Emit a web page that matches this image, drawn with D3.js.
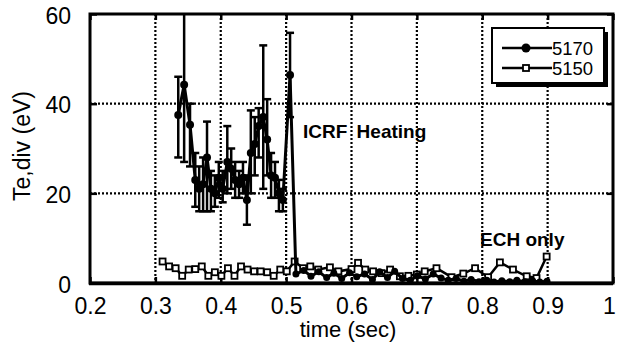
<!DOCTYPE html>
<html>
<head>
<meta charset="utf-8">
<script src="https://cdn.jsdelivr.net/npm/d3@7"></script>
<style>
  html, body { margin: 0; padding: 0; background: #fff; }
  svg text { font-family: "Liberation Sans", Arial, Helvetica, sans-serif; fill: #000; }
</style>
</head>
<body>
<div id="chart"></div>
<script>
// shot 5170 (ICRF heating), with error bars up to the drop
const t5170 = [0.335, 0.344, 0.353, 0.361, 0.367, 0.373, 0.379, 0.385, 0.391, 0.397,
  0.403, 0.410, 0.416, 0.422, 0.428, 0.434, 0.440, 0.446, 0.452, 0.458,
  0.465, 0.471, 0.477, 0.483, 0.489, 0.495, 0.506, 0.515, 0.527, 0.538,
  0.550, 0.562, 0.573, 0.585, 0.597, 0.608, 0.620, 0.632, 0.643, 0.655,
  0.666, 0.678, 0.690, 0.701, 0.713, 0.725, 0.737, 0.748, 0.760, 0.772,
  0.783, 0.795, 0.807, 0.818, 0.830, 0.842, 0.853, 0.865, 0.877, 0.888, 0.899];
const te5170 = [37.5, 44.2, 35.3, 23, 21, 22, 28, 21, 20, 23.5,
  21, 27, 25.5, 23, 22, 23.5, 18.5, 29, 31, 35,
  37, 32, 24, 23.5, 20, 18.5, 46.4, 2.0, 2.8, 1.5,
  2.5, 1.2, 2.2, 1.0, 2.3, 1.4, 2.0, 0.8, 2.5, 1.2,
  2.6, 1.0, 0.6, 1.6, 0.9, 2.0, 1.1, 0.6, 1.0, 0.4,
  0.8, 0.3, 0.6, 0.2, 0.5, 0.3, 0.6, 0.3, 0.5, 0.2, 0.4];
const lo5170 = [28, 27, 26, 17, 16, 16, 16, 16, 17, 19,
  18, 20, 21, 19, 19, 20, 13, 20, 24, 28,
  21, 24, 19, 19, 16, 16, 37];
const hi5170 = [46, 62, 40, 29, 26, 28, 36, 25, 24, 27,
  25, 35, 30, 27, 25, 27, 24, 38.5, 37, 39,
  53, 41, 29, 27, 23, 21, 55.8];

// shot 5150 (ECH only)
const t5150 = [0.311, 0.321, 0.331, 0.341, 0.351, 0.361, 0.371, 0.381, 0.391, 0.401,
  0.411, 0.421, 0.431, 0.441, 0.451, 0.461, 0.471, 0.481, 0.491, 0.501,
  0.513, 0.526, 0.537, 0.549, 0.567, 0.580, 0.600, 0.610, 0.621, 0.633,
  0.646, 0.659, 0.674, 0.687, 0.700, 0.712, 0.730, 0.753, 0.771, 0.789,
  0.809, 0.827, 0.847, 0.868, 0.883, 0.8985];
const te5150 = [4.8, 3.7, 3.3, 1.6, 3.0, 3.1, 3.7, 1.6, 2.4, 1.6,
  3.3, 1.6, 3.7, 3.0, 2.6, 2.6, 2.4, 1.6, 3.0, 2.6,
  4.8, 3.3, 3.7, 3.0, 3.5, 2.6, 3.1, 4.5, 3.0, 2.6,
  2.2, 3.0, 1.5, 1.6, 1.9, 2.6, 3.3, 1.3, 2.1, 3.3,
  1.3, 4.6, 3.0, 1.5, 1.1, 5.9];

const xTicks = [0.2, 0.3, 0.4, 0.5, 0.6, 0.7, 0.8, 0.9, 1.0];
const xLabels = ['0.2', '0.3', '0.4', '0.5', '0.6', '0.7', '0.8', '0.9', '1'];
const yTicks = [0, 20, 40, 60];
const seriesNames = ['5170', '5150'];

const W = 617, H = 347;
const m = { left: 90, right: 4, top: 14, bottom: 64 };

const svg = d3.select('#chart').append('svg')
  .attr('width', W)
  .attr('height', H);

const x = d3.scaleLinear().domain([0.2, 1.0]).range([m.left, W - m.right]);
const y = d3.scaleLinear().domain([0, 60]).range([H - m.bottom, m.top]);

svg.append('defs').append('clipPath').attr('id', 'plot')
  .append('rect')
  .attr('x', x(0.2)).attr('y', y(60))
  .attr('width', x(1) - x(0.2)).attr('height', y(0) - y(60));

// dotted grid
const grid = svg.append('g');
grid.selectAll('.vg')
  .data(xTicks.slice(1, -1))
  .enter().append('line')
  .attr('x1', d => x(d)).attr('x2', d => x(d))
  .attr('y1', y(60)).attr('y2', y(0))
  .attr('stroke', '#000').attr('stroke-width', 2.2)
  .attr('stroke-dasharray', '2,2');
grid.selectAll('.hg')
  .data(yTicks.slice(1, -1))
  .enter().append('line')
  .attr('x1', x(0.2)).attr('x2', x(1))
  .attr('y1', d => y(d)).attr('y2', d => y(d))
  .attr('stroke', '#000').attr('stroke-width', 2.2)
  .attr('stroke-dasharray', '2,2');

// axes with inward ticks
const axB = svg.append('g').attr('transform', `translate(0,${y(0)})`)
  .call(d3.axisBottom(x).tickValues(xTicks).tickSize(-6).tickPadding(15)
    .tickFormat((d, i) => xLabels[i]));
const axT = svg.append('g').attr('transform', `translate(0,${y(60)})`)
  .call(d3.axisTop(x).tickValues(xTicks).tickSize(-6).tickFormat(''));
const axL = svg.append('g').attr('transform', `translate(${x(0.2)},0)`)
  .call(d3.axisLeft(y).tickValues(yTicks).tickSize(-7).tickPadding(19));
const axR = svg.append('g').attr('transform', `translate(${x(1)},0)`)
  .call(d3.axisRight(y).tickValues(yTicks).tickSize(-6).tickFormat(''));

[axB, axT, axL, axR].forEach(a => {
  a.select('.domain').remove();
  a.selectAll('line').attr('stroke', '#000').attr('stroke-width', 2.5);
});
axB.selectAll('text').attr('font-size', 23).attr('fill', '#000')
  .attr('dx', (d, i) => i === xTicks.length - 1 ? -4 : 0);
axL.selectAll('text').attr('font-size', 23).attr('fill', '#000').attr('dy', '0.4em');

// frame
svg.append('rect')
  .attr('x', x(0.2)).attr('y', y(60))
  .attr('width', x(1) - x(0.2)).attr('height', y(0) - y(60))
  .attr('fill', 'none').attr('stroke', '#000').attr('stroke-width', 3);
svg.append('line')
  .attr('x1', x(0.2) - 1).attr('x2', x(1))
  .attr('y1', y(0) + 0.5).attr('y2', y(0) + 0.5)
  .attr('stroke', '#000').attr('stroke-width', 3.5);

const g = svg.append('g').attr('clip-path', 'url(#plot)');

const line = d3.line()
  .x(d => x(d[0]))
  .y(d => y(d[1]))
  .curve(d3.curveLinear);

// 5150 squares series
const d5150 = t5150.map((t, i) => [t, te5150[i]]);
g.append('path')
  .attr('d', line(d5150))
  .attr('fill', 'none').attr('stroke', '#000').attr('stroke-width', 2.5);
g.selectAll('.sq')
  .data(d5150)
  .enter().append('rect')
  .attr('x', d => x(d[0]) - 3).attr('y', d => y(d[1]) - 3)
  .attr('width', 6).attr('height', 6)
  .attr('fill', '#fff').attr('stroke', '#000').attr('stroke-width', 1.8);

// 5170 error bars
const d5170 = t5170.map((t, i) => [t, te5170[i]]);
const errs = lo5170.map((lo, i) => ({ t: t5170[i], lo: lo, hi: hi5170[i] }));
g.selectAll('.eb')
  .data(errs)
  .enter().append('line')
  .attr('x1', d => x(d.t)).attr('x2', d => x(d.t))
  .attr('y1', d => y(d.lo)).attr('y2', d => y(d.hi))
  .attr('stroke', '#000').attr('stroke-width', 2.5);
['lo', 'hi'].forEach(k => {
  g.selectAll('.cap-' + k)
    .data(errs)
    .enter().append('line')
    .attr('x1', d => x(d.t) - 4).attr('x2', d => x(d.t) + 4)
    .attr('y1', d => y(d[k])).attr('y2', d => y(d[k]))
    .attr('stroke', '#000').attr('stroke-width', 2.5);
});

// 5170 line + circles
g.append('path')
  .attr('d', line(d5170))
  .attr('fill', 'none').attr('stroke', '#000').attr('stroke-width', 3);
g.selectAll('.dot')
  .data(d5170)
  .enter().append('circle')
  .attr('cx', d => x(d[0])).attr('cy', d => y(d[1]))
  .attr('r', (d, i) => i < lo5170.length ? 4 : 3.5)
  .attr('fill', '#000');

// annotations
svg.append('text')
  .attr('x', 303).attr('y', 138)
  .attr('font-size', 19).attr('font-weight', 'bold')
  .attr('word-spacing', 4)
  .text('ICRF Heating');
svg.append('text')
  .attr('x', 480).attr('y', 246)
  .attr('font-size', 19).attr('font-weight', 'bold')
  .text('ECH only');

// axis titles
svg.append('text')
  .attr('x', 348).attr('y', 337)
  .attr('text-anchor', 'middle')
  .attr('font-size', 22)
  .text('time (sec)');
svg.append('text')
  .attr('transform', 'translate(30,146) rotate(-90)')
  .attr('text-anchor', 'middle')
  .attr('font-size', 23)
  .text('Te,div (eV)');

// legend
const lg = svg.append('g');
lg.append('rect')
  .attr('x', 496).attr('y', 32).attr('width', 112).attr('height', 55)
  .attr('fill', '#000');
lg.append('rect')
  .attr('x', 492).attr('y', 28).attr('width', 112).attr('height', 55)
  .attr('fill', '#fff').attr('stroke', '#000').attr('stroke-width', 2);
seriesNames.forEach((name, i) => {
  const ly = 48 + i * 20;
  lg.append('line')
    .attr('x1', 502).attr('x2', 552).attr('y1', ly).attr('y2', ly)
    .attr('stroke', '#000').attr('stroke-width', 2.5);
  if (i === 0) {
    lg.append('circle').attr('cx', 526).attr('cy', ly).attr('r', 4.5).attr('fill', '#000');
  } else {
    lg.append('rect').attr('x', 523).attr('y', ly - 3).attr('width', 6).attr('height', 6)
      .attr('fill', '#fff').attr('stroke', '#000').attr('stroke-width', 1.8);
  }
  lg.append('text')
    .attr('x', 552).attr('y', ly + 7)
    .attr('font-size', 18.5)
    .text(name);
});
</script>
</body>
</html>
